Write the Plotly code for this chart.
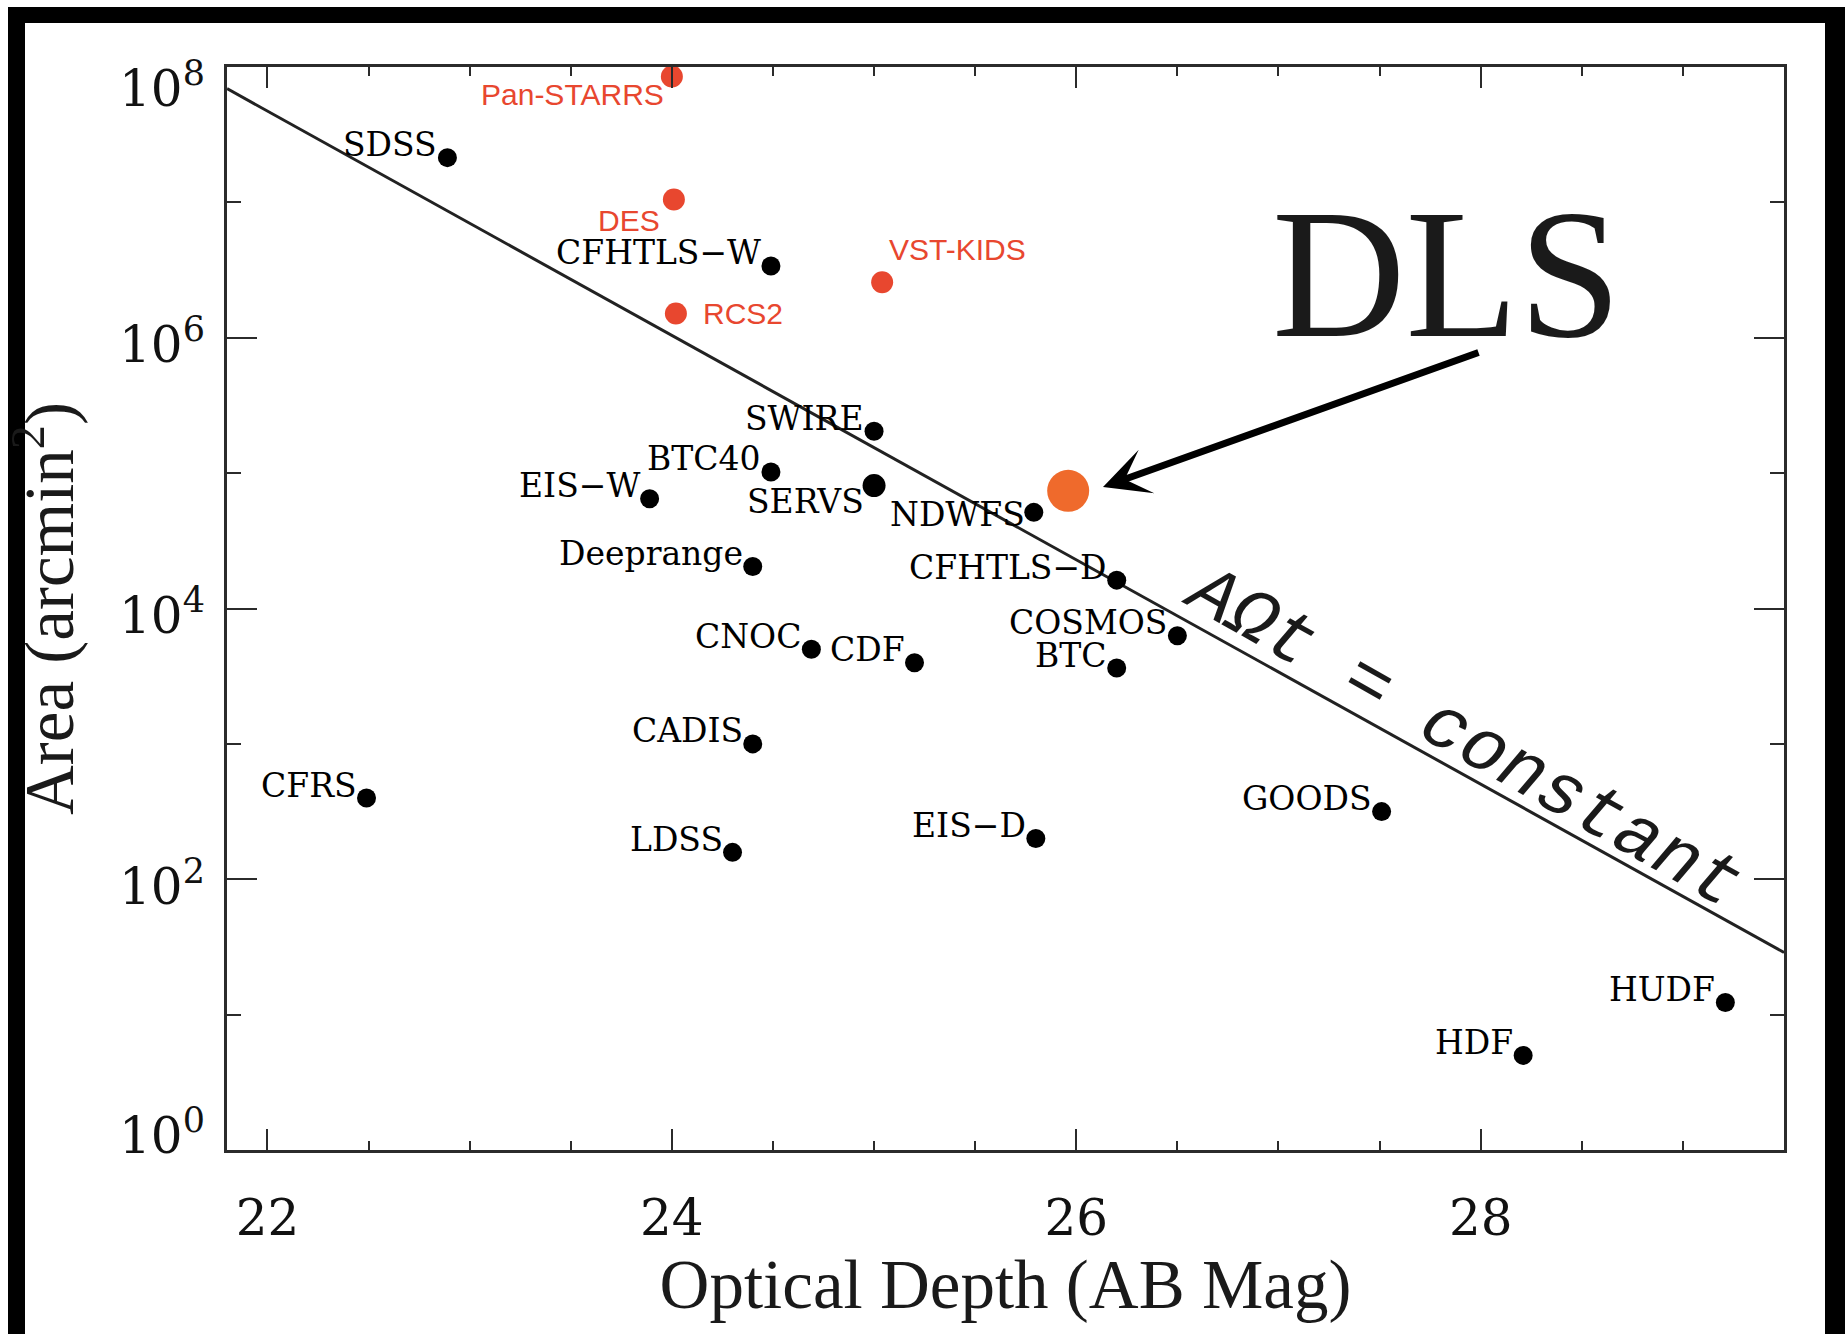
import numpy as np
import plotly.graph_objects as go

# ---------------- data ----------------
# existing surveys (black points): optical depth [AB mag], area [arcmin^2]
black_names = ["SDSS", "CFHTLS\u2212W", "SWIRE", "BTC40", "SERVS", "EIS\u2212W", "NDWFS",
               "Deeprange", "CFHTLS\u2212D", "COSMOS", "CNOC", "CDF", "BTC", "CADIS",
               "CFRS", "GOODS", "EIS\u2212D", "LDSS", "HUDF", "HDF"]
black_depth = [22.89, 24.49, 25.00, 24.49, 25.00, 23.89, 25.79,
               24.40, 26.20, 26.50, 24.69, 25.20, 26.20, 24.40,
               22.49, 27.51, 25.80, 24.30, 29.21, 28.21]
black_area = [2.14e7, 3.39e6, 2.04e5, 1.02e5, 8.1e4, 6.46e4, 5.13e4,
              2.04e4, 1.62e4, 6.3e3, 5.0e3, 3.98e3, 3.63e3, 1.0e3,
              398, 316, 200, 158, 12.3, 5.0]

# upcoming surveys (red points)
red_names = ["Pan-STARRS", "DES", "VST-KIDS", "RCS2"]
red_depth = [24.00, 24.01, 25.04, 24.02]
red_area = [8.5e7, 1.05e7, 2.57e6, 1.51e6]

# DLS (orange point)
dls_depth = [25.96]
dls_area = [7.4e4]

# A*Omega*t = constant line (end points on the axes)
line_depth = [21.8, 29.5]
line_area = [6.92e7, 28.8]

# axes
x_range = [21.8, 29.5]
x_tickvals = [22, 24, 26, 28]
y_tickvals = [1, 1e2, 1e4, 1e6, 1e8]
y_ticktext = ["10<sup>0</sup>", "10<sup>2</sup>", "10<sup>4</sup>", "10<sup>6</sup>", "10<sup>8</sup>"]
y_minor_vals = [10, 1e3, 1e5, 1e7]

# ---------------- page geometry ----------------
W, H = 1845, 1334
L, R, T, B = 227, 1784, 67, 1150          # plot area in page pixels


def xp(px):
    return (px - L) / (R - L)


def yp(py):
    return (B - py) / (B - T)


AX = "#2b2b2b"
RED = "#e8472f"
ORANGE = "#ef6a2c"
LABEL_FONT = dict(family="DejaVu Serif", size=33, color="#000000")
RED_FONT = dict(family="Liberation Sans", size=30, color=RED)
TICK_FONT = dict(family="DejaVu Serif", size=50, color="#111111")
TITLE_FONT = dict(family="Liberation Serif", size=69, color="#1a1a1a")

# label offsets in pixels (xanchor right unless noted)
black_shift = {"SERVS": (-8, -16), "NDWFS": (-7, -2)}
red_style = {
    "Pan-STARRS": ("right", -6, -18),
    "DES": ("right", -12, -21),
    "VST-KIDS": ("left", 5, 33),
    "RCS2": ("left", 25, 0),
}
black_sizes = [23 if n == "SERVS" else 19 for n in black_names]
# vertical nudges of the y tick labels (end labels kept inside the axis span)
y_label_nudge = [18, -4, -4, -4, -18]

fig = go.Figure()
fig.add_trace(go.Scatter(x=line_depth, y=line_area, mode="lines",
                         line=dict(color="#222222", width=3), hoverinfo="skip",
                         showlegend=False))
fig.add_trace(go.Scatter(x=black_depth, y=black_area, mode="markers",
                         marker=dict(color="#000000", size=black_sizes, opacity=1,
                                     line=dict(width=0)),
                         text=black_names, cliponaxis=False, showlegend=False))
fig.add_trace(go.Scatter(x=red_depth, y=red_area, mode="markers",
                         marker=dict(color=RED, size=22, opacity=1, line=dict(width=0)),
                         text=red_names, cliponaxis=False, showlegend=False))
fig.add_trace(go.Scatter(x=dls_depth, y=dls_area, mode="markers",
                         marker=dict(color=ORANGE, size=42, opacity=1, line=dict(width=0)),
                         text=["DLS"], cliponaxis=False, showlegend=False))

# point labels
for name, x, y in zip(black_names, black_depth, black_area):
    dx, dy = black_shift.get(name, (-8, 13))
    fig.add_annotation(x=x, y=np.log10(y), text=name, showarrow=False,
                       xanchor="right", yanchor="middle", xshift=dx, yshift=dy,
                       font=LABEL_FONT)
for name, x, y in zip(red_names, red_depth, red_area):
    anchor, dx, dy = red_style[name]
    fig.add_annotation(x=x, y=np.log10(y), text=name, showarrow=False,
                       xanchor=anchor, yanchor="middle", xshift=dx, yshift=dy,
                       font=RED_FONT)

# y tick labels (10^n), placed next to the axis
for v, txt, dy in zip(y_tickvals, y_ticktext, y_label_nudge):
    fig.add_annotation(xref="paper", yref="y", x=xp(207), y=np.log10(v), text=txt,
                       showarrow=False, xanchor="right", yanchor="middle", yshift=dy,
                       font=TICK_FONT)

# "DLS" title and arrow
fig.add_annotation(xref="paper", yref="paper", x=xp(1447), y=yp(274), text="DLS",
                   showarrow=False, xanchor="center", yanchor="middle",
                   font=dict(family="Liberation Serif", size=185, color="#1a1a1a"))
fig.add_annotation(xref="paper", yref="paper", x=xp(1103), y=yp(487), text="",
                   showarrow=True, axref="pixel", ayref="pixel", ax=377, ay=-135,
                   arrowhead=3, arrowsize=1.1, arrowwidth=7, arrowcolor="black")

# line label
fig.add_annotation(xref="paper", yref="paper", x=xp(1463), y=yp(738),
                   text="<i>A\u03a9t = constant</i>", showarrow=False, textangle=29.5,
                   xanchor="center", yanchor="middle",
                   font=dict(family="Liberation Mono", size=74, color="#1a1a1a"))

# black frame bands around the picture
for x0, y0, x1, y1 in [(8, 7, 1845, 23), (8, 7, 25, 1334), (1825, 7, 1845, 1334)]:
    fig.add_shape(type="rect", xref="paper", yref="paper",
                  x0=xp(x0), x1=xp(x1), y0=yp(y0), y1=yp(y1),
                  fillcolor="black", line=dict(width=0), layer="above")

fig.update_xaxes(range=x_range, tickvals=x_tickvals, ticktext=[str(v) for v in x_tickvals],
                 ticks="inside", ticklen=21, tickwidth=2, tickcolor=AX,
                 showline=True, linecolor=AX, linewidth=3, mirror="ticks",
                 showgrid=False, zeroline=False, ticklabelstandoff=22,
                 minor=dict(dtick=0.5, tick0=22, ticks="inside", ticklen=9, tickwidth=2,
                            tickcolor=AX, showgrid=False),
                 tickfont=TICK_FONT,
                 title=dict(text="Optical Depth (AB Mag)", standoff=7, font=TITLE_FONT))
fig.update_yaxes(type="log", range=[0, 8], tickvals=y_tickvals, ticktext=y_ticktext,
                 showticklabels=False,
                 ticks="inside", ticklen=30, tickwidth=2, tickcolor=AX,
                 showline=True, linecolor=AX, linewidth=3, mirror="ticks",
                 showgrid=False, zeroline=False,
                 minor=dict(tickvals=y_minor_vals, ticks="inside", ticklen=14, tickwidth=2,
                            tickcolor=AX, showgrid=False),
                 title=dict(text="Area (arcmin<sup>2</sup>)", standoff=128, font=TITLE_FONT))

fig.update_layout(width=W, height=H, autosize=False,
                  margin=dict(l=L, r=W - R, t=T, b=H - B, pad=0),
                  paper_bgcolor="white", plot_bgcolor="white", showlegend=False)

fig.write_html("out.html", config={"displayModeBar": False},
               post_script="document.body.style.margin='0';")
